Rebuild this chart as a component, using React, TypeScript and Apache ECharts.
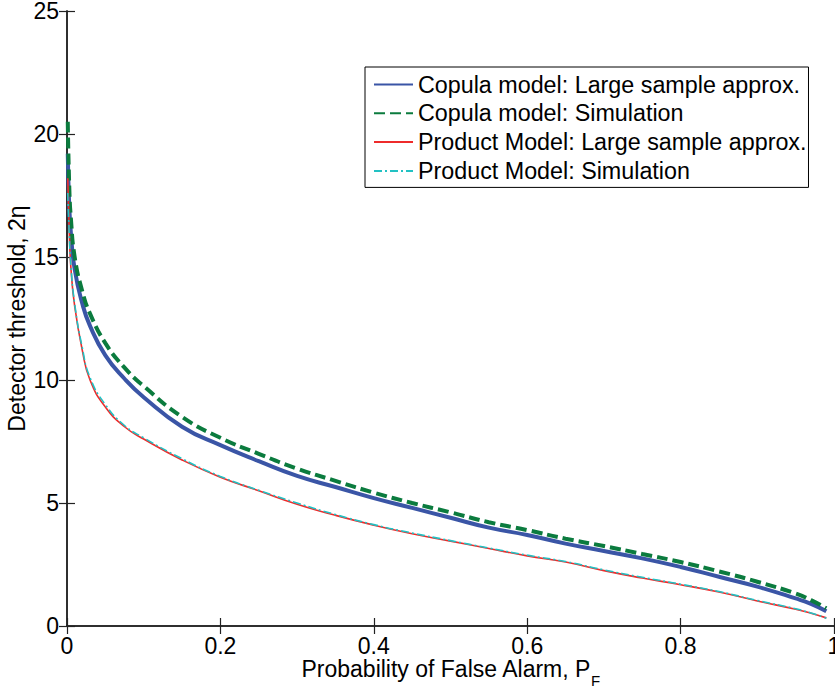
import React, { useEffect, useRef } from "react";
import * as echarts from "echarts";

const pf = [0.001, 0.003, 0.005, 0.01, 0.02, 0.03, 0.05, 0.075, 0.1, 0.15, 0.2, 0.25, 0.3, 0.35, 0.4, 0.45, 0.5, 0.55, 0.6, 0.65, 0.7, 0.75, 0.8, 0.85, 0.9, 0.95, 0.97, 0.99];
const copulaApprox = [19.2, 17.0, 16.0, 14.5, 13.1, 12.2, 11.0, 10.05, 9.3, 8.1, 7.35, 6.7, 6.1, 5.65, 5.2, 4.8, 4.4, 4.0, 3.7, 3.35, 3.05, 2.75, 2.4, 2.0, 1.6, 1.12, 0.9, 0.6];
const copulaSim = [20.5, 17.8, 16.6, 15.0, 13.6, 12.7, 11.5, 10.5, 9.75, 8.5, 7.65, 7.0, 6.4, 5.9, 5.42, 5.0, 4.62, 4.22, 3.9, 3.55, 3.25, 2.93, 2.6, 2.22, 1.8, 1.32, 1.05, 0.72];
const productApprox = [18.2, 16.0, 14.6, 13.0, 11.2, 10.0, 8.9, 8.1, 7.6, 6.75, 6.05, 5.5, 4.95, 4.5, 4.1, 3.75, 3.45, 3.15, 2.85, 2.6, 2.25, 1.95, 1.68, 1.38, 1.02, 0.68, 0.52, 0.33];
const productSim = [17.6, 15.9, 14.7, 13.1, 11.3, 10.1, 9.0, 8.15, 7.65, 6.8, 6.08, 5.52, 5.0, 4.53, 4.12, 3.78, 3.47, 3.17, 2.88, 2.62, 2.28, 1.98, 1.7, 1.4, 1.04, 0.7, 0.53, 0.32];

const seriesNames = [
  "Copula model: Large sample approx.",
  "Copula model: Simulation",
  "Product Model: Large sample approx.",
  "Product Model: Simulation",
];

const FONT = "'Liberation Sans', Arial, Helvetica, sans-serif";

export default function App() {
  const ref = useRef<HTMLDivElement>(null);
  useEffect(() => {
    if (!ref.current) return;
    const chart = echarts.init(ref.current, undefined, { renderer: "svg" });
    const pairs = (ys: number[]) => pf.map((x, i) => [x, ys[i]]);
    const axisLine = { show: true, lineStyle: { color: "#222", width: 1.5 } };
    const tick = { show: true, inside: true, length: 8, lineStyle: { color: "#222", width: 1.2 } };
    chart.setOption({
      animation: false,
      backgroundColor: "#fff",
      textStyle: { fontFamily: FONT },
      grid: { left: 67, right: 1, top: 11, bottom: 62, containLabel: false, outerBoundsMode: "none" },
      legend: {
        orient: "vertical",
        left: 365,
        top: 67,
        padding: [6, 2, 5, 8],
        borderColor: "#000",
        borderWidth: 1,
        backgroundColor: "#fff",
        itemWidth: 39,
        itemHeight: 14,
        itemGap: 5.8,
        itemStyle: { opacity: 0 },
        textStyle: { fontSize: 23.3, lineHeight: 23, color: "#000", fontFamily: FONT },
        data: seriesNames,
      },
      xAxis: [
        {
          type: "value",
          min: 0,
          max: 1,
          interval: 0.2,
          position: "bottom",
          name: "Probability of False Alarm, P{sub|F}",
          nameLocation: "middle",
          nameGap: 31.5,
          nameMoveOverlap: false,
          nameTextStyle: {
            fontSize: 23,
            color: "#000",
            fontFamily: FONT,
            rich: { sub: { fontSize: 15, color: "#000", fontFamily: FONT, padding: [11, 0, -11, 0] } },
          },
          axisLine,
          axisTick: tick,
          axisLabel: { fontSize: 23, color: "#000", margin: 8, fontFamily: FONT },
          splitLine: { show: false },
        },
        {
          type: "value",
          min: 0,
          max: 1,
          interval: 0.2,
          position: "top",
          axisLine,
          axisTick: tick,
          axisLabel: { show: false },
          splitLine: { show: false },
        },
      ],
      yAxis: [
        {
          type: "value",
          min: 0,
          max: 25,
          interval: 5,
          position: "left",
          name: "Detector threshold, 2η",
          nameLocation: "middle",
          nameGap: 39,
          nameMoveOverlap: false,
          nameTextStyle: { fontSize: 23, color: "#000", fontFamily: FONT },
          axisLine,
          axisTick: tick,
          axisLabel: { fontSize: 23, lineHeight: 20, color: "#000", margin: 8, fontFamily: FONT },
          splitLine: { show: false },
        },
        {
          type: "value",
          min: 0,
          max: 25,
          interval: 5,
          position: "right",
          axisLine,
          axisTick: tick,
          axisLabel: { show: false },
          splitLine: { show: false },
        },
      ],
      series: [
        {
          name: seriesNames[0],
          type: "line",
          data: pairs(copulaApprox),
          showSymbol: false,
          symbol: "none",
          smooth: 0.5,
          lineStyle: { color: "#3A55A6", width: 4 },
          itemStyle: { color: "#3A55A6" },
        },
        {
          name: seriesNames[1],
          type: "line",
          data: pairs(copulaSim),
          showSymbol: false,
          symbol: "none",
          smooth: 0.5,
          lineStyle: { color: "#0B7B3E", width: 4, type: [11, 5] },
          itemStyle: { color: "#0B7B3E" },
        },
        {
          name: seriesNames[2],
          type: "line",
          data: pairs(productApprox),
          showSymbol: false,
          symbol: "none",
          smooth: 0.5,
          lineStyle: { color: "#EE2B2B", width: 1.6 },
          itemStyle: { color: "#EE2B2B" },
        },
        {
          name: seriesNames[3],
          type: "line",
          data: pairs(productSim),
          showSymbol: false,
          symbol: "none",
          smooth: 0.5,
          lineStyle: { color: "#22C1C3", width: 1.6, type: [8, 3, 2, 3] },
          itemStyle: { color: "#22C1C3" },
        },
      ],
    });
    return () => chart.dispose();
  }, []);
  return (
    <div
      ref={ref}
      style={{ position: "fixed", left: 0, top: 0, width: 835, height: 688, background: "#fff" }}
    />
  );
}
